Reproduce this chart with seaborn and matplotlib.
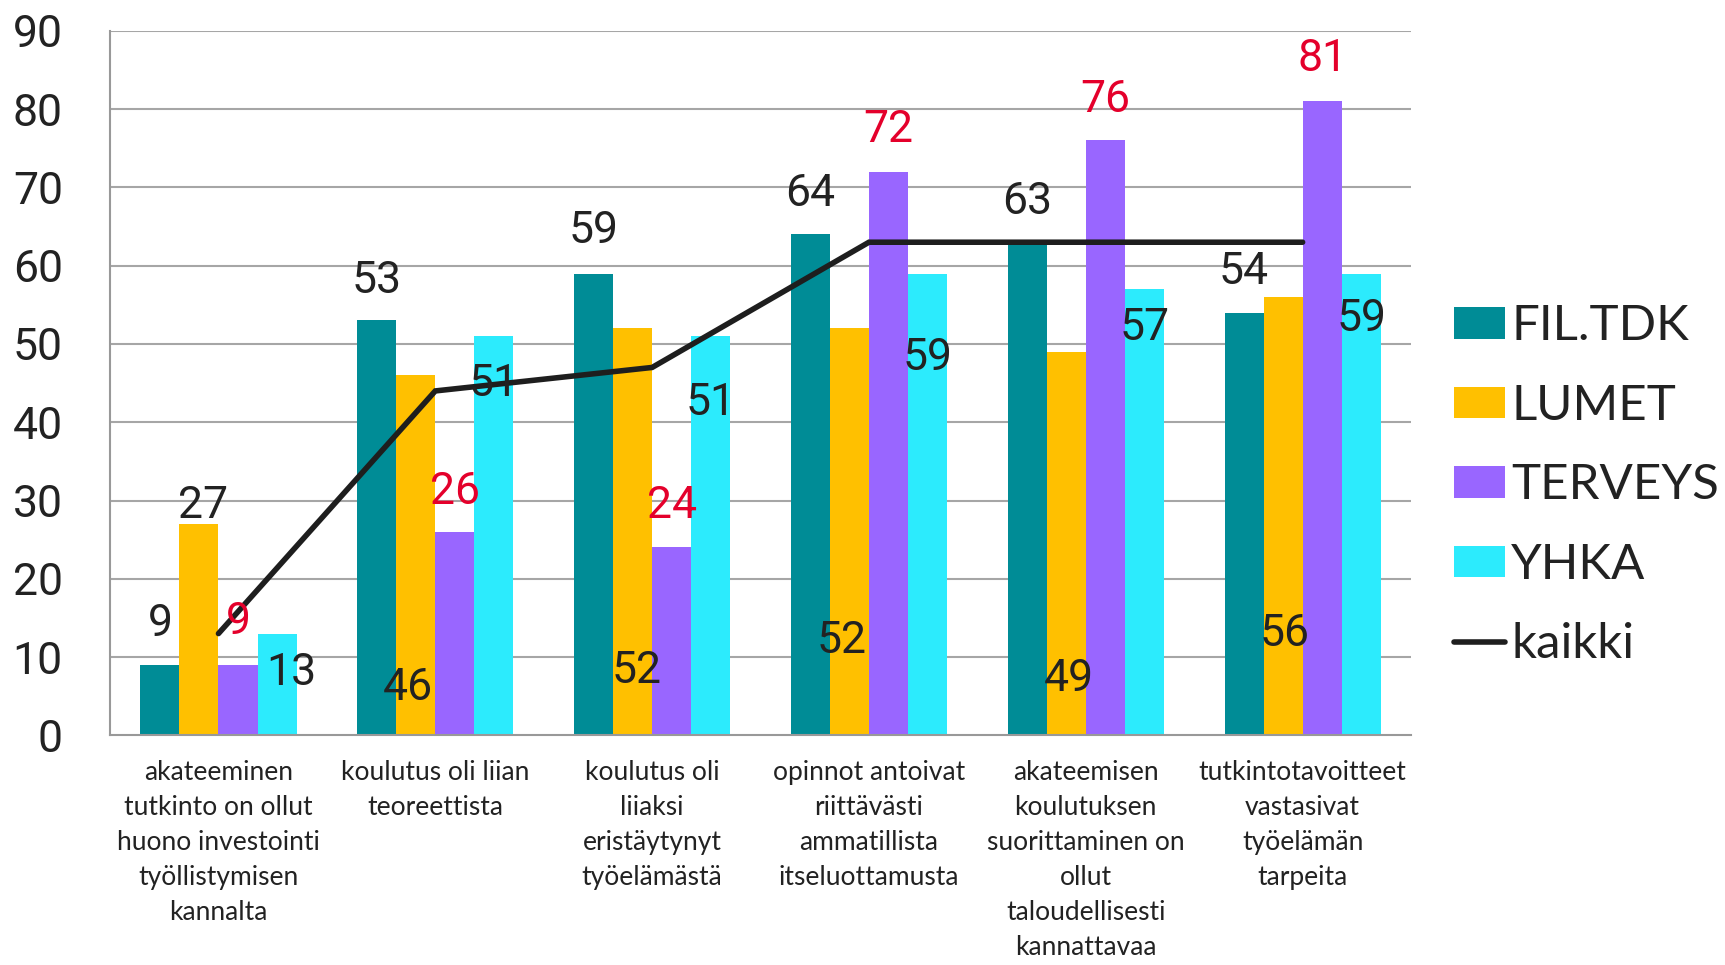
import matplotlib
matplotlib.use("Agg")
import matplotlib.pyplot as plt
from matplotlib import font_manager
from matplotlib.patches import Patch
from matplotlib.lines import Line2D
import seaborn as sns
import pandas as pd

# ---------------- data ----------------
categories = [
    "akateeminen\ntutkinto on ollut\nhuono investointi\ntyöllistymisen\nkannalta",
    "koulutus oli liian\nteoreettista",
    "koulutus oli\nliiaksi\neristäytynyt\ntyöelämästä",
    "opinnot antoivat\nriittävästi\nammatillista\nitseluottamusta",
    "akateemisen\nkoulutuksen\nsuorittaminen on\nollut\ntaloudellisesti\nkannattavaa",
    "tutkintotavoitteet\nvastasivat\ntyöelämän\ntarpeita",
]
series_names = ["FIL.TDK", "LUMET", "TERVEYS", "YHKA"]
fil_tdk = [9, 53, 59, 64, 63, 54]
lumet = [27, 46, 52, 52, 49, 56]
terveys = [9, 26, 24, 72, 76, 81]
yhka = [13, 51, 51, 59, 57, 59]
kaikki = [13, 44, 47, 63, 63, 63]
y_ticks = [0, 10, 20, 30, 40, 50, 60, 70, 80, 90]

# label placement (data units, as positioned in the original chart)
label_y = {
    "FIL.TDK": [14.2, 58.1, 64.4, 69.2, 68.2, 59.2],
    "LUMET": [29.3, 6.0, 8.2, 12.1, 7.2, 12.9],
    "TERVEYS": [14.5, 31.1, 29.3, 77.4, 81.2, 86.4],
    "YHKA": [7.9, 44.9, 42.5, 48.2, 52.0, 53.2],
}
label_dx = {
    "FIL.TDK": [0, 0, 0, 0, 0, 0],
    "LUMET": [0.02, -0.035, 0.02, -0.035, 0.01, 0.005],
    "TERVEYS": [0, 0, 0, 0, 0, 0],
    "YHKA": [0.066, 0, 0, 0, 0, 0],
}

colors = ["#008C96", "#FFC000", "#9966FF", "#2CEBFD"]
label_colors = ["#222222", "#222222", "#E4002B", "#222222"]
TEXT = "#222222"

installed = {f.name for f in font_manager.fontManager.ttflist}
def pick(*names):
    for n in names:
        if n in installed:
            return n
    return "DejaVu Sans"

NUM_FONT = pick("Liberation Sans Narrow", "Roboto", "Lato")
TXT_FONT = pick("Lato", "Open Sans", "Noto Sans")

sns.set_theme(style="white")
plt.rcParams["font.family"] = [TXT_FONT, "DejaVu Sans"]

df = pd.DataFrame({
    "cat": categories * 4,
    "series": [s for s in series_names for _ in categories],
    "value": fil_tdk + lumet + terveys + yhka,
})

fig = plt.figure(figsize=(17.25, 9.65), dpi=100)
ax = fig.add_axes([0.0638, 0.238, 0.818 - 0.0638, 0.968 - 0.238])

sns.barplot(data=df, x="cat", y="value", hue="series", hue_order=series_names,
            order=categories, palette=colors, saturation=1, width=0.72, gap=0,
            errorbar=None, legend=False, ax=ax, zorder=2, linewidth=0)

sns.lineplot(x=list(range(len(categories))), y=kaikki, color="#1E1E1E",
             linewidth=4, ax=ax, zorder=3, solid_joinstyle="miter")

ax.set_xlim(-0.5, len(categories) - 0.5)
ax.set_ylim(0, 90)
ax.set_yticks(y_ticks)
ax.set_yticklabels([str(t) for t in y_ticks], fontsize=32, color=TEXT,
                   family=[NUM_FONT, "DejaVu Sans"])
ax.set_xticks(range(len(categories)))
ax.set_xticklabels(categories, fontsize=19, color=TEXT, linespacing=1.5,
                   va="top")
ax.tick_params(axis="y", length=0, pad=34)
ax.tick_params(axis="x", length=0, pad=18)
ax.set_xlabel("")
ax.set_ylabel("")

ax.grid(False)
for t in y_ticks[1:]:
    ax.axhline(t, color="#A6A6A6", linewidth=1.5, zorder=1)
for side in ["top", "right"]:
    ax.spines[side].set_visible(False)
for side in ["left", "bottom"]:
    ax.spines[side].set_color("#999999")
    ax.spines[side].set_linewidth(1.5)

# data labels
for i, (name, cont) in enumerate(zip(series_names, ax.containers)):
    for j, bar in enumerate(cont):
        x = bar.get_x() + bar.get_width() / 2 + label_dx[name][j]
        ax.text(x, label_y[name][j], str(int(round(bar.get_height()))),
                ha="center", va="center", fontsize=32, color=label_colors[i],
                family=[NUM_FONT, "DejaVu Sans"], zorder=5)

handles = [Patch(facecolor=c, edgecolor="none", label=n) for c, n in zip(colors, series_names)]
handles.append(Line2D([0], [0], color="#1E1E1E", linewidth=4, label="kaikki"))
fig.legend(handles=handles, loc="center left", bbox_to_anchor=(0.843, 0.497),
           frameon=False, fontsize=35.5, handlelength=1.04, handleheight=0.6,
           handletextpad=0.12, labelspacing=0.72, labelcolor=TEXT,
           borderaxespad=0, borderpad=0)

fig.savefig("out.png", dpi=100)
